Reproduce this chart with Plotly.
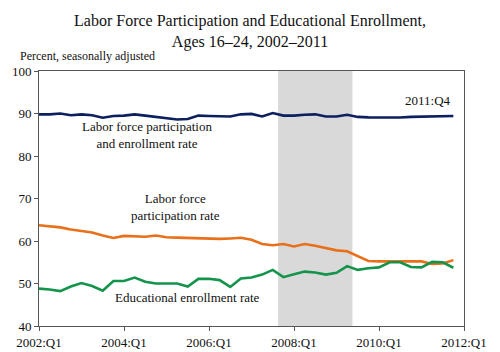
import plotly.graph_objects as go

quarters = [f"{y}:Q{q}" for y in range(2002, 2012) for q in range(1, 5)]
x_years = [2002 + i / 4 for i in range(len(quarters))]

lf_enroll = [89.8, 89.8, 90.0, 89.6, 89.8, 89.6, 89.0, 89.4, 89.5, 89.8,
             89.5, 89.2, 89.0, 88.6, 88.7, 89.5, 89.4, 89.3, 89.3, 89.8,
             89.9, 89.3, 90.1, 89.5, 89.5, 89.7, 89.8, 89.3, 89.3, 89.7,
             89.2, 89.1, 89.05, 89.05, 89.05, 89.2, 89.25, 89.2, 89.2, 89.4]
lf_part = [63.7, 63.4, 63.2, 62.7, 62.3, 62.0, 61.3, 60.7, 61.2, 61.1,
           61.0, 61.3, 60.9, 60.8, 60.7, 60.7, 60.6, 60.5, 60.6, 60.75,
           60.3, 59.3, 59.0, 59.3, 58.7, 59.3, 58.9, 58.3, 57.8, 57.6,
           56.5, 55.3, 55.2, 55.2, 55.1, 55.1, 55.2, 54.6, 54.7, 55.5]
enroll = [48.8, 48.6, 48.2, 49.3, 50.1, 49.4, 48.3, 50.6, 50.6, 51.4,
          50.4, 50.0, 50.0, 50.0, 49.3, 51.1, 51.1, 50.8, 49.2, 51.2,
          51.4, 52.1, 53.2, 51.5, 52.2, 52.8, 52.6, 52.1, 52.5, 54.1,
          53.2, 53.6, 53.8, 55.0, 55.0, 53.9, 53.8, 55.1, 55.0, 53.7]

tick_vals = [2002, 2004, 2006, 2008, 2010, 2012]
tick_text = ["2002:Q1", "2004:Q1", "2006:Q1", "2008:Q1", "2010:Q1", "2012:Q1"]
recession = (2007.625, 2009.375)

FONT = "Liberation Serif"
TXT = dict(family=FONT, size=13, color="#111")

fig = go.Figure()
fig.add_shape(type="rect", xref="x", yref="paper", x0=recession[0], x1=recession[1],
              y0=0, y1=1, fillcolor="#d9d9d9", line_width=0, layer="below")

for vals, color in [(lf_enroll, "#0c1f5e"), (lf_part, "#e8701a"), (enroll, "#13944a")]:
    fig.add_trace(go.Scatter(x=x_years, y=vals, mode="lines",
                             line=dict(color=color, width=2.6), hoverinfo="skip"))

fig.add_annotation(x=2004.55, y=85.0, text="Labor force participation<br>and enrollment rate",
                   showarrow=False, font=TXT)
fig.add_annotation(x=2005.2, y=68.1, text="Labor force<br>participation rate",
                   showarrow=False, font=TXT)
fig.add_annotation(x=2005.5, y=46.7, text="Educational enrollment rate",
                   showarrow=False, font=TXT)
fig.add_annotation(x=2011.75, y=93.1, text="2011:Q4", showarrow=False, xanchor="right",
                   font=TXT)
fig.add_annotation(xref="paper", yref="paper", x=-0.05, y=1.025, xanchor="left", yanchor="bottom",
                   text="Percent, seasonally adjusted", showarrow=False,
                   font=dict(family=FONT, size=12, color="#111"))

fig.update_layout(
    width=500, height=352,
    margin=dict(l=39, r=36, t=71, b=26, autoexpand=False),
    paper_bgcolor="white", plot_bgcolor="white",
    showlegend=False,
    font=TXT,
    title=dict(text="Labor Force Participation and Educational Enrollment,<br>Ages 16–24, 2002–2011",
               x=0.5, xanchor="center", y=0.925, yanchor="top",
               font=dict(family=FONT, size=16, color="#111")),
)
fig.update_xaxes(range=[2002, 2012], tickvals=tick_vals, ticktext=tick_text, automargin=False,
                 showgrid=False, zeroline=False, showline=True, linecolor="#555", linewidth=1,
                 mirror=True, ticks="outside", ticklen=4, tickcolor="#555",
                 tickfont=dict(family=FONT, size=13, color="#111"))
fig.update_yaxes(range=[40, 100], tickvals=[40, 50, 60, 70, 80, 90, 100], automargin=False,
                 showgrid=False, zeroline=False, showline=True, linecolor="#555", linewidth=1,
                 mirror=True, ticks="outside", ticklen=4, tickcolor="#555",
                 tickfont=dict(family=FONT, size=13, color="#111"))

fig.write_html("out.html")
